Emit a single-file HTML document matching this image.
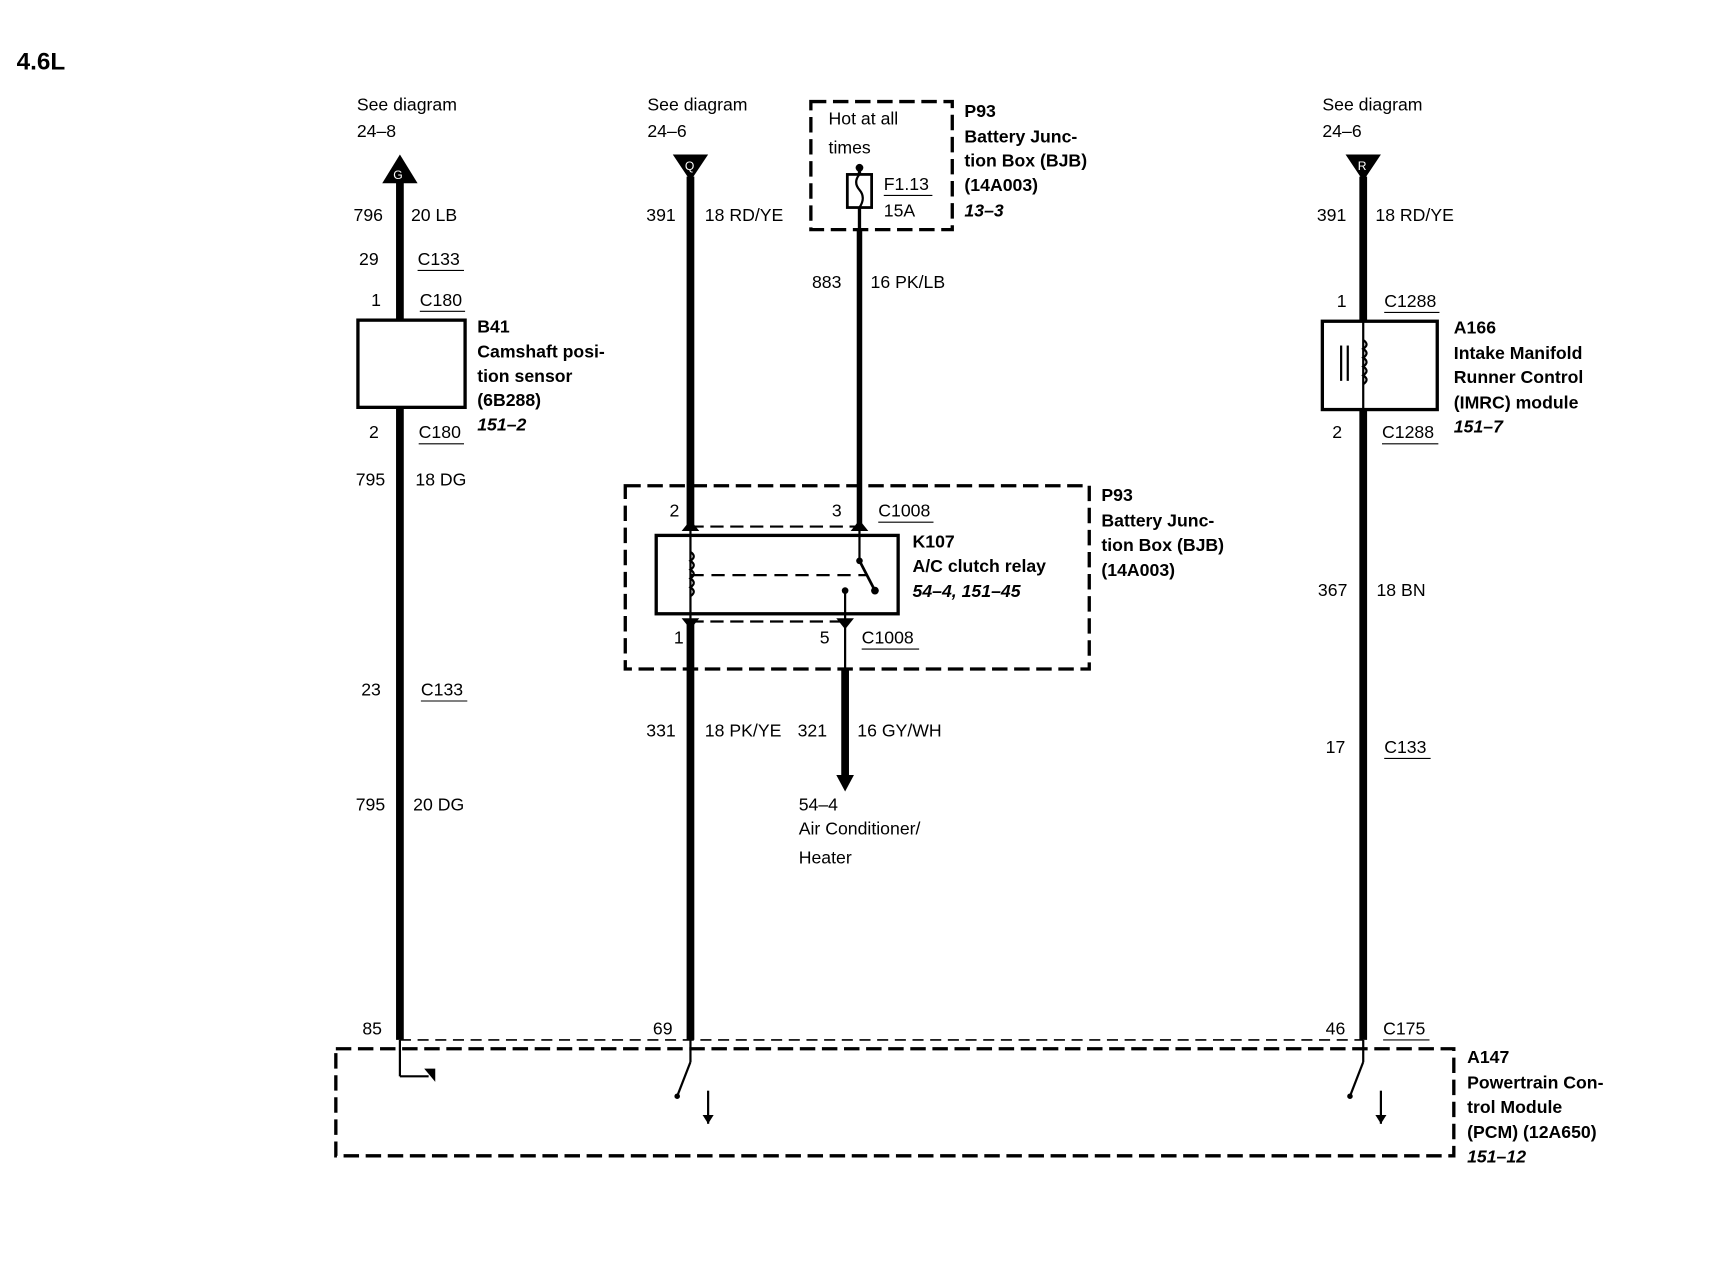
<!DOCTYPE html>
<html><head><meta charset="utf-8"><style>
html,body{margin:0;padding:0;background:#fff;}
svg{display:block;}
text{font-family:"Liberation Sans",sans-serif;font-size:16px;fill:#000;}
.b{font-weight:bold;}
.i{font-weight:bold;font-style:italic;}
</style></head><body>
<svg width="1730" height="1264" viewBox="0 0 1566 1145" preserveAspectRatio="none" xmlns="http://www.w3.org/2000/svg">
<rect width="1566" height="1145" fill="#fff"/>
<text x="15" y="63" class="b" style="font-size:22px">4.6L</text>

<!-- Wire 1 -->
<text x="323" y="100">See diagram</text><text x="323" y="124">24–8</text>
<polygon points="362,140 346,166 378,166" fill="#000"/>
<text x="356" y="162" style="font-size:11px;fill:#fff">G</text>
<line x1="362" y1="164" x2="362" y2="942" stroke="#000" stroke-width="7"/>
<text x="320" y="200">796</text><text x="372" y="200">20 LB</text>
<text x="325" y="240">29</text><text x="378" y="240">C133</text><line x1="378" y1="245" x2="420" y2="245" stroke="#000"/>
<text x="336" y="277">1</text><text x="380" y="277">C180</text><line x1="380" y1="282" x2="421" y2="282" stroke="#000"/>
<rect x="324" y="290" width="97" height="79" fill="#fff" stroke="#000" stroke-width="3"/>
<text x="334" y="397">2</text><text x="379" y="397">C180</text><line x1="379" y1="402" x2="420" y2="402" stroke="#000"/>
<text x="432" y="301" class="b">B41</text><text x="432" y="324" class="b">Camshaft posi-</text><text x="432" y="346" class="b">tion sensor</text><text x="432" y="368" class="b">(6B288)</text><text x="432" y="390" class="i">151–2</text>
<text x="322" y="440">795</text><text x="376" y="440">18 DG</text>
<text x="327" y="630">23</text><text x="381" y="630">C133</text><line x1="381" y1="635" x2="423" y2="635" stroke="#000"/>
<text x="322" y="734">795</text><text x="374" y="734">20 DG</text>
<text x="328" y="937">85</text>

<!-- Wire 2 -->
<text x="586" y="100">See diagram</text><text x="586" y="124">24–6</text>
<polygon points="609,140 641,140 625,164" fill="#000"/>
<text x="620" y="154" style="font-size:11px;fill:#fff">Q</text>
<line x1="625" y1="160" x2="625" y2="477" stroke="#000" stroke-width="7"/>
<text x="585" y="200">391</text><text x="638" y="200">18 RD/YE</text>

<!-- fuse box -->
<rect x="734" y="92" width="128" height="116" fill="none" stroke="#000" stroke-width="3" stroke-dasharray="14,6"/>
<text x="750" y="113">Hot at all</text><text x="750" y="139">times</text>
<circle cx="778" cy="152" r="3.5" fill="#000"/>
<line x1="778" y1="152" x2="778" y2="208" stroke="#000" stroke-width="3"/>
<rect x="767" y="158" width="22" height="30" fill="#fff" stroke="#000" stroke-width="2.5"/>
<path d="M778,158 q-6,7 0,14 q6,7 0,16" fill="none" stroke="#000" stroke-width="2"/>
<text x="800" y="172">F1.13</text><line x1="800" y1="177" x2="844" y2="177" stroke="#000"/>
<text x="800" y="196">15A</text>
<text x="873" y="106" class="b">P93</text><text x="873" y="129" class="b">Battery Junc-</text><text x="873" y="151" class="b">tion Box (BJB)</text><text x="873" y="173" class="b">(14A003)</text><text x="873" y="196" class="i">13–3</text>
<line x1="778" y1="208" x2="778" y2="477" stroke="#000" stroke-width="5"/>
<text x="735" y="261">883</text><text x="788" y="261">16 PK/LB</text>

<!-- relay box -->
<rect x="566" y="440" width="420" height="166" fill="none" stroke="#000" stroke-width="3" stroke-dasharray="14,6"/>
<text x="606" y="468">2</text><text x="753" y="468">3</text><text x="795" y="468">C1008</text><line x1="795" y1="473" x2="845" y2="473" stroke="#000"/>
<line x1="625" y1="477" x2="778" y2="477" stroke="#000" stroke-width="2" stroke-dasharray="12,6"/>
<polygon points="625,471 617,481 633,481" fill="#000"/><polygon points="778,471 770,481 786,481" fill="#000"/>
<rect x="594" y="485" width="219" height="71" fill="#fff" stroke="#000" stroke-width="3"/>
<line x1="625" y1="477" x2="625" y2="565" stroke="#000" stroke-width="2"/>
<path d="M625,500 q6,4 0,8 q6,4 0,8 q6,4 0,8 q6,4 0,8 q6,4 0,8" fill="none" stroke="#000" stroke-width="2"/>
<line x1="625" y1="521" x2="785" y2="521" stroke="#000" stroke-width="2" stroke-dasharray="12,7"/>
<line x1="778" y1="477" x2="778" y2="508" stroke="#000" stroke-width="2"/>
<line x1="778" y1="508" x2="792" y2="535" stroke="#000" stroke-width="2.5"/>
<circle cx="778" cy="508" r="3" fill="#000"/><circle cx="792" cy="535" r="3.5" fill="#000"/>
<circle cx="765" cy="535" r="3" fill="#000"/>
<line x1="765" y1="535" x2="765" y2="606" stroke="#000" stroke-width="2"/>
<line x1="625" y1="563" x2="765" y2="563" stroke="#000" stroke-width="2" stroke-dasharray="12,6"/>
<polygon points="625,570 617,560 633,560" fill="#000"/><polygon points="765,570 757,560 773,560" fill="#000"/>
<text x="610" y="583">1</text><text x="742" y="583">5</text><text x="780" y="583">C1008</text><line x1="780" y1="588" x2="832" y2="588" stroke="#000"/>
<text x="826" y="496" class="b">K107</text><text x="826" y="518" class="b">A/C clutch relay</text><text x="826" y="541" class="i">54–4, 151–45</text>
<text x="997" y="454" class="b">P93</text><text x="997" y="477" class="b">Battery Junc-</text><text x="997" y="499" class="b">tion Box (BJB)</text><text x="997" y="522" class="b">(14A003)</text>

<line x1="625" y1="565" x2="625" y2="942" stroke="#000" stroke-width="7"/>
<line x1="765" y1="606" x2="765" y2="705" stroke="#000" stroke-width="7"/>
<polygon points="757,702 773,702 765,717" fill="#000"/>
<text x="585" y="667">331</text><text x="638" y="667">18 PK/YE</text><text x="722" y="667">321</text><text x="776" y="667">16 GY/WH</text>
<text x="723" y="734">54–4</text><text x="723" y="756">Air Conditioner/</text><text x="723" y="782">Heater</text>
<text x="591" y="937">69</text>

<!-- Wire 3 -->
<text x="1197" y="100">See diagram</text><text x="1197" y="124">24–6</text>
<polygon points="1218,140 1250,140 1234,164" fill="#000"/>
<text x="1229" y="154" style="font-size:11px;fill:#fff">R</text>
<line x1="1234" y1="160" x2="1234" y2="942" stroke="#000" stroke-width="7"/>
<text x="1192" y="200">391</text><text x="1245" y="200">18 RD/YE</text>
<text x="1210" y="278">1</text><text x="1253" y="278">C1288</text><line x1="1253" y1="283" x2="1303" y2="283" stroke="#000"/>
<rect x="1197" y="291" width="104" height="80" fill="#fff" stroke="#000" stroke-width="3"/>
<line x1="1234" y1="291" x2="1234" y2="371" stroke="#000" stroke-width="2"/>
<path d="M1234,308 q6,4 0,8 q6,4 0,8 q6,4 0,8 q6,4 0,8 q6,4 0,8" fill="none" stroke="#000" stroke-width="2"/>
<line x1="1214" y1="313" x2="1214" y2="345" stroke="#000" stroke-width="2"/><line x1="1220" y1="313" x2="1220" y2="345" stroke="#000" stroke-width="2"/>
<text x="1206" y="397">2</text><text x="1251" y="397">C1288</text><line x1="1251" y1="402" x2="1302" y2="402" stroke="#000"/>
<text x="1316" y="302" class="b">A166</text><text x="1316" y="325" class="b">Intake Manifold</text><text x="1316" y="347" class="b">Runner Control</text><text x="1316" y="370" class="b">(IMRC) module</text><text x="1316" y="392" class="i">151–7</text>
<text x="1193" y="540">367</text><text x="1246" y="540">18 BN</text>
<text x="1200" y="682">17</text><text x="1253" y="682">C133</text><line x1="1253" y1="687" x2="1295" y2="687" stroke="#000"/>
<text x="1200" y="937">46</text><text x="1252" y="937">C175</text><line x1="1252" y1="942" x2="1294" y2="942" stroke="#000"/>

<!-- PCM -->
<line x1="362" y1="942" x2="1234" y2="942" stroke="#000" stroke-width="1.5" stroke-dasharray="10,6"/>
<rect x="304" y="950" width="1012" height="97" fill="none" stroke="#000" stroke-width="3" stroke-dasharray="14,6"/>
<line x1="362" y1="942" x2="362" y2="975" stroke="#000" stroke-width="2"/><line x1="362" y1="975" x2="388" y2="975" stroke="#000" stroke-width="2"/>
<polygon points="384,968 394,968 394,980" fill="#000"/>
<line x1="625" y1="942" x2="625" y2="962" stroke="#000" stroke-width="2"/><line x1="625" y1="962" x2="613" y2="993" stroke="#000" stroke-width="2"/>
<circle cx="613" cy="993" r="2.5" fill="#000"/>
<line x1="641" y1="988" x2="641" y2="1018" stroke="#000" stroke-width="2"/><polygon points="636,1010 646,1010 641,1018" fill="#000"/>
<line x1="1234" y1="942" x2="1234" y2="962" stroke="#000" stroke-width="2"/><line x1="1234" y1="962" x2="1222" y2="993" stroke="#000" stroke-width="2"/>
<circle cx="1222" cy="993" r="2.5" fill="#000"/>
<line x1="1250" y1="988" x2="1250" y2="1018" stroke="#000" stroke-width="2"/><polygon points="1245,1010 1255,1010 1250,1018" fill="#000"/>
<text x="1328" y="963" class="b">A147</text><text x="1328" y="986" class="b">Powertrain Con-</text><text x="1328" y="1008" class="b">trol Module</text><text x="1328" y="1031" class="b">(PCM) (12A650)</text><text x="1328" y="1053" class="i">151–12</text>
</svg>
</body></html>
